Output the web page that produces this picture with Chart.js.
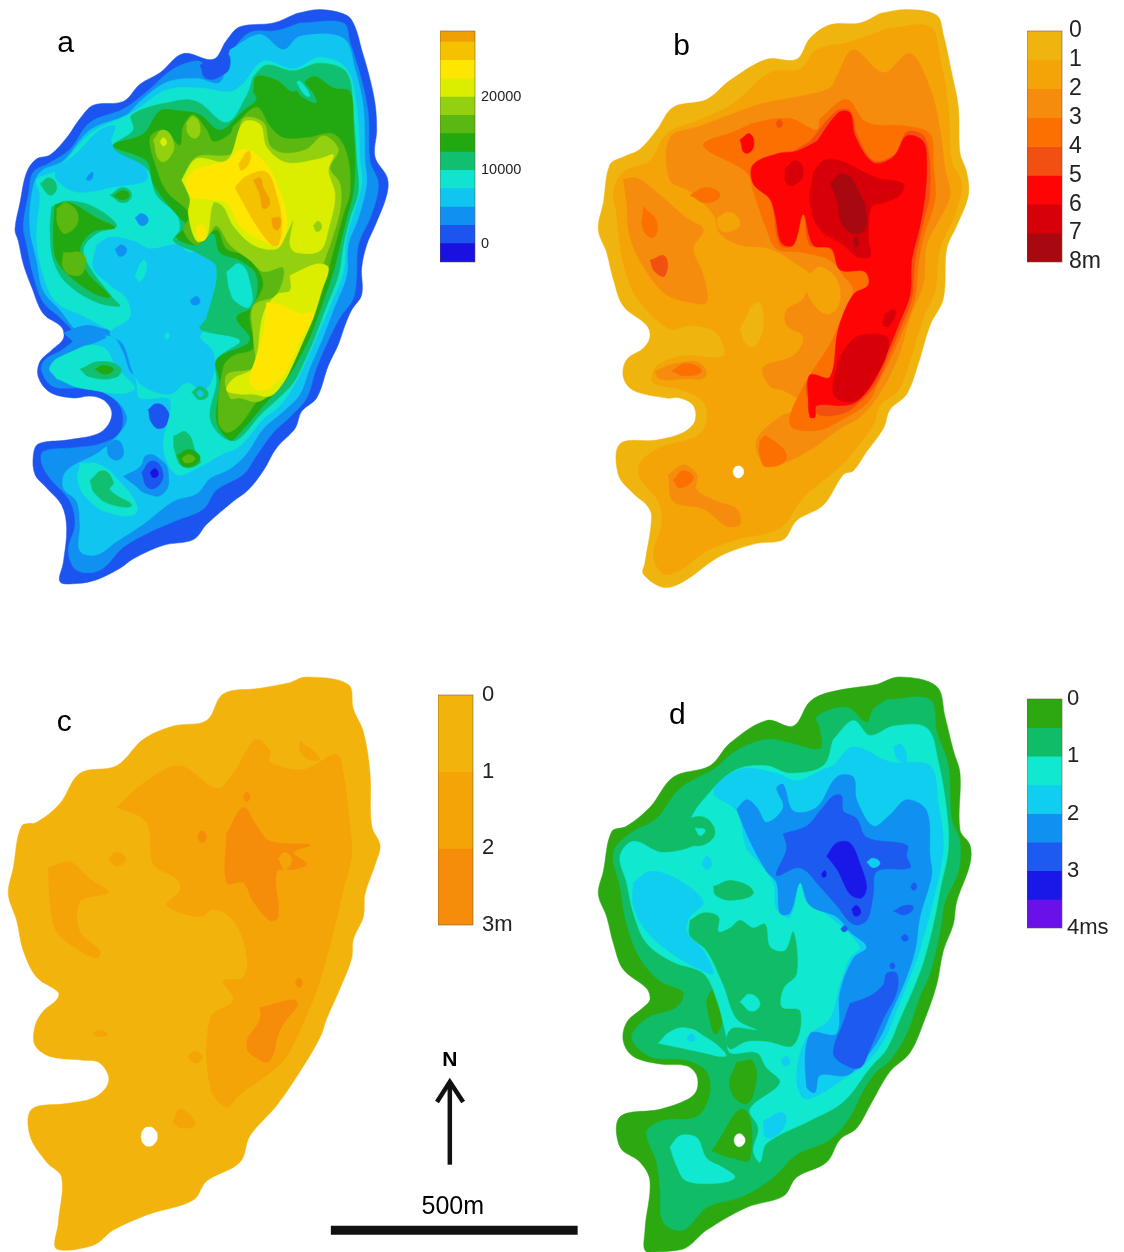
<!DOCTYPE html>
<html>
<head>
<meta charset="utf-8">
<title>Maps a-d</title>
<script src="https://cdn.jsdelivr.net/npm/chart.js@4"></script>
<style>
  html, body { margin: 0; background: #fff; }
  #page { position: relative; width: 1124px; height: 1252px; overflow: hidden; }
  canvas { position: absolute; }
  canvas.map { filter: blur(0.6px); }
</style>
</head>
<body>
<div id="page"></div>
<script>
// colour bar bands and ticks
const aColors = ["#1a10e0","#1c54f0","#1090f0","#10c6f0","#10e4d0","#10c070","#22a810","#5ab810","#92d010","#dcee00","#ffe600","#f5c200","#f0a000"];
const aEdges = [-2500,0,2500,5000,7500,10000,12500,15000,17500,20000,22500,25000,27500,29000];
const aTicks = [0,10000,20000];
const aTickLabels = ["0","10000","20000"];

const bColors = ["#f0b40e","#f4a406","#f58c0e","#fb7000","#f25010","#ff0404","#d80008","#a80810"];
const bEdges = [0,1,2,3,4,5,6,7,8];
const bTicks = [0,1,2,3,4,5,6,7,8];
const bTickLabels = ["0","1","2","3","4","5","6","7","8m"];

const cColors = ["#f2b40c","#f5a408","#f58c0a"];
const cEdges = [0,1,2,3];
const cTicks = [0,1,2,3];
const cTickLabels = ["0","1","2","3m"];

const dColors = ["#2ca810","#10bc66","#10e8d0","#10cef0","#1090f0","#1c5af0","#1a18e8","#6a10e8"];
const dEdges = [0,0.5,1,1.5,2,2.5,3,3.5,4];
const dTicks = [0,1,2,3,4];
const dTickLabels = ["0","1","2","3","4ms"];

// contours: [band, [x,y, x,y, ...]] drawn in order, map units
const aContours = [
  [1,[890,35,960,25,1040,40,1065,70,1085,130,1105,190,1125,270,1130,340,1125,410,1162,465,1160,510,1125,590,1100,640,1085,700,1085,770,1055,810,1035,850,1015,900,985,955,950,1040,905,1075,885,1120,830,1170,790,1230,745,1280,700,1310,620,1370,580,1410,490,1425,400,1460,360,1485,290,1515,230,1525,180,1520,190,1470,200,1380,185,1320,140,1275,105,1240,100,1190,115,1160,200,1150,290,1135,325,1110,335,1075,310,1045,270,1035,220,1040,150,1025,115,985,120,945,155,915,190,885,185,855,130,820,95,750,70,690,55,630,45,600,60,530,80,450,110,415,150,405,200,360,240,310,280,275,370,265,420,220,480,190,550,140,640,155,680,105,720,70,820,60,890,35]],
  [2,[900,60,1030,60,1050,110,1085,210,1105,300,1110,420,1135,480,1115,560,1075,640,1070,720,1060,780,1020,830,990,880,950,960,920,1040,870,1090,820,1130,770,1190,730,1240,650,1280,610,1330,530,1360,450,1390,370,1430,300,1490,230,1490,205,1440,225,1370,210,1310,150,1250,125,1210,130,1180,220,1170,300,1160,360,1130,365,1070,320,1030,240,1015,160,1010,125,970,135,940,185,915,225,880,180,830,130,790,100,720,80,640,70,590,85,510,100,450,150,425,210,390,270,320,370,285,440,240,520,180,600,160,620,195,670,185,700,130,750,85,830,80,900,60]],
  [3,[690,130,780,90,850,130,900,95,1030,100,1065,180,1090,280,1095,420,1100,480,1075,570,1045,640,1040,720,1000,810,965,890,930,960,900,1030,850,1075,790,1120,740,1185,690,1225,630,1250,590,1290,520,1310,430,1370,350,1415,290,1450,240,1440,240,1370,230,1310,190,1275,200,1230,300,1180,370,1120,380,1085,340,1040,240,1000,180,985,150,960,190,930,260,905,320,880,240,870,180,810,130,760,110,680,90,600,95,510,120,450,190,420,270,340,380,300,420,265,500,215,590,205,660,215]],
  [1,[600,170,650,155,680,140,690,170,670,195,620,205]],
  [2,[190,870,260,850,330,860,400,825,440,830,420,880,420,960,395,975,370,920,340,880,290,880,240,900]],
  [1,[380,895,395,880,412,895,395,915]],
  [1,[445,1070,470,1055,500,1070,505,1100,480,1120,455,1105]],
  [2,[320,1165,350,1150,370,1175,360,1200,330,1195]],
  [2,[370,1245,420,1220,440,1190,480,1200,505,1235,490,1290,440,1290,400,1265]],
  [1,[425,1235,455,1205,485,1225,480,1265,445,1275]],
  [0,[450,1235,465,1225,475,1240,460,1248]],
  [4,[730,220,790,160,880,180,960,150,1040,180,1070,280,1080,420,1085,480,1060,560,1040,620,1030,710,990,800,955,870,925,930,890,995,840,1060,790,1095,720,1165,660,1190,600,1220,530,1240,490,1170,510,1045,420,1040,410,1000,380,900,340,870,260,830,170,790,130,720,110,620,120,510,110,470,170,445,270,350,385,300,420,280,500,235,600,230,690,240]],
  [4,[170,990,150,960,200,925,300,905,350,960,400,1020,250,1015]],
  [4,[240,1210,300,1215,360,1260,410,1320,400,1345,330,1340,270,1310,235,1260]],
  [3,[165,445,230,400,300,340,345,330,335,375,420,420,440,470,330,490,280,500,220,500,170,470]],
  [3,[290,640,330,620,400,630,450,650,530,640,570,660,640,650,650,700,640,770,630,850,600,880,640,920,640,980,610,1020,560,1000,510,1030,430,1010,400,975,370,900,330,870,390,830,380,780,330,745,280,700]],
  [2,[265,458,278,450,275,468,260,470]],
  [2,[405,570,425,558,445,575,425,590]],
  [2,[345,652,365,640,380,655,360,670]],
  [2,[570,785,590,775,600,790,580,797]],
  [4,[405,720,430,680,440,700,420,735]],
  [4,[495,875,505,870,507,882,497,885]],
  [5,[760,200,800,170,880,185,960,165,1040,190,1060,300,1070,420,1075,500,1050,570,1030,640,1015,720,975,810,945,880,910,950,880,1000,830,1045,780,1085,710,1150,665,1140,630,1090,650,1000,650,940,720,890,600,860,620,830,650,700,600,665,520,630,540,600,530,560,470,510,440,440,340,385,400,340,395,300,520,265,590,265,680,320,740,250]],
  [5,[120,480,150,465,170,490,150,510]],
  [5,[155,540,200,525,280,540,350,590,290,610,250,650,270,700,340,780,360,800,290,790,200,740,160,680,150,600]],
  [5,[330,510,370,490,395,510,370,530]],
  [6,[340,512,370,498,388,510,368,522]],
  [5,[240,965,300,945,360,960,350,985,270,985]],
  [6,[285,965,310,955,340,965,315,978]],
  [5,[520,1140,560,1130,590,1190,600,1210,550,1220,525,1180]],
  [6,[530,1190,570,1175,600,1200,555,1220]],
  [7,[545,1198,568,1188,585,1200,558,1210]],
  [5,[575,1025,600,1010,625,1030,600,1045]],
  [3,[590,1027,600,1020,610,1030,600,1036]],
  [5,[270,1255,310,1230,340,1260,330,1280,395,1320,340,1320,285,1290]],
  [6,[760,240,770,200,830,210,880,240,940,200,1000,230,1050,240,1060,340,1065,420,1060,500,1040,570,1020,640,1000,710,960,810,930,880,895,940,860,990,820,1030,780,1070,720,1130,690,1150,650,1100,660,1000,650,940,750,890,710,830,760,800,770,720,720,680,660,660,640,610,590,640,530,620,560,590,540,570,500,530,460,480,440,420,340,380,430,350,480,290,540,290,600,300,660,340,730,290,770,260]],
  [6,[165,535,210,530,290,570,345,595,280,605,240,650,260,710,330,775,290,770,220,730,170,680,160,620]],
  [4,[680,710,720,690,750,740,750,800,710,790,690,760]],
  [5,[880,205,900,205,950,265,920,260,890,235]],
  [4,[890,215,900,212,930,250,915,248]],
  [7,[700,330,770,280,810,330,850,360,920,360,1000,350,1040,400,1050,500,1030,560,1005,640,980,720,940,830,900,910,870,960,820,1010,770,1050,720,1110,680,1130,655,1100,670,960,700,930,760,910,750,820,790,740,740,670,680,650,650,600,590,640,550,600,570,560,500,500,470,440,450,360,490,340,540,380,550,330,580,300,620,340,640,370,690,350]],
  [7,[170,545,200,530,235,570,200,610,175,590]],
  [7,[190,660,250,665,250,710,220,720,190,700]],
  [8,[460,365,490,340,520,370,510,410,480,420]],
  [9,[480,370,490,360,500,372,490,382]],
  [8,[560,320,580,305,600,330,590,360,565,350]],
  [8,[550,460,590,410,700,400,730,310,790,320,810,380,850,400,920,390,970,355,1015,390,990,440,1020,480,1020,550,990,640,970,690,950,760,920,830,890,900,850,980,810,1030,770,1050,720,1040,690,1040,680,980,760,960,760,880,760,800,830,770,850,700,790,710,750,680,690,640,650,590,620,620,590,630,570,550,570,500]],
  [9,[545,470,590,415,680,420,730,320,780,325,800,385,860,425,960,415,1000,405,985,445,1005,510,985,600,960,655,890,660,870,640,880,575,860,610,830,650,760,640,700,590,670,540,640,530,620,620,590,630,565,560,570,520]],
  [9,[870,720,950,690,985,700,965,760,940,830,910,890,880,950,850,1000,810,1035,760,1030,720,1030,680,1020,700,990,760,960,790,820,830,770,870,760]],
  [8,[940,590,955,578,965,595,950,605]],
  [10,[590,440,680,420,730,390,790,420,830,480,860,570,840,640,790,630,720,590,680,530,620,520,570,510,560,470]],
  [10,[590,590,610,590,615,625,595,625]],
  [10,[800,790,850,800,900,820,940,820,900,890,870,950,840,990,790,1020,750,1000,770,930,790,870]],
  [11,[705,490,740,460,800,450,830,510,845,580,835,640,815,640,770,590,730,530]],
  [11,[715,430,745,395,750,420,725,445]],
  [12,[760,470,780,465,790,490,810,530,790,545,780,510]],
  [12,[815,570,840,570,835,600,820,595]]
];

const bContours = [
  [0,[870,35,950,25,1040,40,1060,90,1085,190,1105,280,1110,400,1130,450,1135,510,1100,590,1070,650,1060,780,1020,850,985,950,950,1030,900,1070,880,1120,830,1180,790,1230,760,1240,700,1320,620,1360,580,1410,500,1420,410,1445,360,1470,280,1520,220,1535,160,1500,165,1470,185,1350,170,1320,130,1290,85,1240,90,1160,200,1150,280,1130,315,1100,310,1060,270,1040,230,1040,130,1020,100,985,110,940,160,910,180,880,170,850,100,800,70,730,50,660,25,600,40,530,60,430,100,410,150,390,200,340,250,280,350,260,420,210,530,155,620,155,660,100,720,65,810,60,870,35]],
  [1,[890,75,1020,70,1050,150,1075,280,1085,420,1115,480,1095,560,1050,650,1035,760,1000,830,965,930,925,1020,870,1060,850,1110,800,1170,750,1220,640,1300,570,1380,440,1410,350,1440,270,1490,220,1500,190,1450,215,1370,205,1310,150,1250,150,1210,210,1170,320,1140,350,1100,340,1050,280,1020,190,1000,190,970,210,950,280,930,400,930,380,870,300,850,240,860,150,790,110,720,90,640,80,560,70,500,100,450,180,420,230,350,340,310,430,270,540,190,630,180,680,130,780,110]],
  [0,[450,860,500,790,520,830,500,900,470,900]],
  [2,[740,200,790,130,880,190,960,140,1020,230,1050,340,1065,440,1080,510,1050,570,1010,640,1000,740,960,830,930,920,900,980,860,1040,810,1090,750,1120,670,1170,580,1210,520,1210,500,1150,570,1090,640,1060,580,1020,540,1010,520,960,610,930,640,880,590,850,590,810,640,780,660,720,620,690,540,650,450,640,390,610,370,560,300,500,240,470,240,360,330,330,420,300,520,270,640,250,720,230]],
  [2,[100,470,140,465,210,510,290,570,340,600,310,650,340,720,350,790,300,790,230,770,170,710,120,620,110,530]],
  [2,[195,970,260,950,330,950,345,985,280,990,210,990]],
  [2,[235,1240,280,1215,320,1240,320,1280,380,1310,440,1330,450,1370,410,1375,340,1330,250,1310]],
  [1,[380,570,420,555,450,585,420,605,390,600]],
  [1,[650,720,700,700,750,760,720,820,660,780]],
  [3,[690,310,770,260,830,320,950,330,1020,350,1030,430,1035,520,1000,620,985,690,975,780,940,860,905,930,870,990,835,1050,770,1090,680,1125,600,1110,640,1010,720,900,745,850,790,760,760,720,720,680,640,660,560,650,530,600,490,500,470,450,340,380,430,345,500,320,600,310,680,340]],
  [3,[160,540,200,580,190,620,160,600]],
  [3,[300,510,350,490,390,510,350,530]],
  [3,[245,970,290,950,335,970,285,982]],
  [3,[250,1255,280,1230,310,1250,270,1275]],
  [3,[510,1150,530,1140,590,1195,530,1220,510,1190]],
  [4,[180,680,225,670,225,720,195,710]],
  [4,[660,370,740,290,780,290,800,350,850,420,920,400,950,345,1005,360,1020,500,1000,580,975,680,965,780,930,860,895,930,860,1000,810,1050,760,1080,680,1080,650,1000,720,990,750,850,790,770,840,750,820,700,750,700,720,650,660,640,640,560,610,640,570,640,540,520,490,480,490,430,560,420,620,390]],
  [5,[680,370,745,295,780,295,795,355,850,425,910,410,950,355,1000,370,1010,430,1005,510,990,590,965,680,960,770,925,850,890,925,850,1000,800,1050,760,1060,680,1060,675,1090,660,1090,655,1040,660,980,720,985,745,860,790,770,835,745,825,710,750,705,725,650,670,640,640,560,610,640,575,635,555,560,540,520,490,480,490,430,570,400,620,395]],
  [5,[450,365,480,350,490,385,465,400]],
  [4,[558,322,568,312,578,324,566,334]],
  [6,[670,450,700,420,750,420,800,440,860,465,940,480,930,510,880,530,845,540,835,620,840,670,800,670,760,640,690,600,660,530]],
  [6,[585,440,620,420,640,450,620,480,590,480]],
  [6,[750,930,800,880,890,880,890,925,860,980,810,1040,770,1050,730,1030,740,960]],
  [6,[885,820,915,810,900,850,880,850]],
  [7,[720,480,760,455,800,490,830,570,810,610,760,590,740,520]],
  [7,[790,625,800,620,805,640,795,645]]
];
const bHole = [429,1233,434,1222,445,1218,456,1222,461,1233,456,1244,445,1249,434,1244];

const cContours = [
  [0,[870,60,920,45,1045,65,1060,130,1090,190,1110,300,1115,440,1140,490,1130,530,1095,620,1090,680,1060,740,1055,790,1020,870,980,950,960,1000,900,1090,830,1180,750,1260,720,1330,620,1380,580,1430,440,1470,340,1510,280,1550,170,1560,175,1490,185,1370,140,1330,90,1260,95,1190,200,1175,280,1160,320,1130,325,1100,295,1065,250,1060,150,1050,105,1020,105,970,130,930,170,900,175,880,110,840,70,770,50,690,25,620,40,550,65,440,110,430,180,380,240,300,350,280,430,210,520,175,620,160,670,90,780,75]],
  [1,[350,390,440,320,540,280,650,340,700,300,740,240,770,210,810,240,810,270,910,290,1010,250,1030,300,1050,440,1055,520,1030,610,1000,720,960,850,930,920,860,1050,800,1100,720,1150,680,1185,630,1130,630,950,700,900,670,850,730,840,740,780,700,690,640,660,600,680,500,650,540,610,530,580,460,540,440,430]],
  [1,[900,215,960,260,930,265,900,240]],
  [1,[145,550,210,535,270,580,325,615,240,640,240,720,300,770,290,790,230,765,170,720,150,640]],
  [1,[325,528,350,510,378,528,350,546]],
  [1,[278,990,298,980,322,992,298,998]],
  [1,[563,1050,585,1036,607,1052,585,1068]],
  [1,[518,1225,540,1190,585,1228,545,1240]],
  [2,[680,460,730,390,770,440,810,480,930,490,880,510,920,540,880,555,830,560,835,680,810,690,760,640,730,590,680,590]],
  [1,[835,525,855,510,875,530,855,555]],
  [2,[780,920,890,905,840,980,810,1060,780,1060,740,1020,780,950]],
  [2,[592,468,605,452,620,468,605,484]],
  [2,[885,855,897,843,908,855,897,867]],
  [2,[730,362,740,350,750,364,738,376]]
];
const cHole = [423,1262,430,1244,447,1237,464,1244,472,1262,464,1280,447,1288,430,1280];

const dContours = [
  [0,[860,65,930,45,1040,70,1065,150,1090,240,1110,300,1110,450,1140,490,1140,540,1100,640,1090,700,1060,770,1040,860,1005,950,960,1040,900,1090,840,1180,800,1240,750,1270,710,1330,620,1370,580,1420,470,1450,350,1510,280,1560,170,1568,165,1510,180,1380,150,1330,90,1290,90,1210,210,1190,290,1165,320,1140,320,1100,290,1075,210,1070,130,1050,100,1010,110,960,160,920,180,900,170,870,100,820,70,750,50,680,25,620,40,560,65,455,110,440,180,390,250,310,360,280,420,220,530,160,610,175,660,110,720,85]],
  [1,[890,105,1020,105,1040,190,1075,280,1085,420,1110,480,1105,560,1065,640,1050,720,1020,830,990,890,950,990,900,1060,860,1090,820,1140,780,1210,720,1270,620,1310,550,1370,460,1420,350,1450,280,1510,220,1490,210,1400,200,1330,170,1250,220,1220,320,1210,360,1150,350,1090,290,1060,180,1050,125,1000,170,950,260,920,280,880,210,850,150,790,110,700,90,600,70,510,120,460,200,420,270,340,370,290,440,240,530,210,600,220,690,235,690,180,680,150,770,125,830,165,850,130]],
  [0,[440,1065,490,1065,490,1150,460,1175,420,1130]],
  [0,[360,880,410,850,380,990,350,910]],
  [0,[365,1300,460,1190,480,1320,430,1320]],
  [2,[730,210,790,160,840,200,910,175,1010,180,1045,270,1070,400,1075,500,1050,610,1030,700,1000,800,970,870,930,950,890,1030,840,1080,760,1170,660,1220,530,1280,510,1330,490,1300,505,1240,480,1190,570,1120,530,1080,500,1040,420,1040,410,1000,380,900,340,830,250,800,170,750,130,670,110,590,90,520,130,480,220,510,330,480,300,430,360,350,440,290,530,280,600,300,700,280]],
  [2,[205,1015,240,985,290,975,340,995,400,1035,405,1050,340,1040,260,1025]],
  [2,[240,1290,270,1260,320,1265,350,1320,400,1345,435,1370,390,1385,290,1380,260,1340]],
  [1,[300,690,340,670,385,680,385,720,420,710,450,690,490,710,525,700,540,760,585,770,610,720,620,830,580,870,575,920,630,930,610,1020,530,1010,470,1010,420,1030,410,1000,430,975,500,980,440,950,400,860,350,770,300,730]],
  [2,[450,905,480,885,510,910,485,930]],
  [1,[265,450,320,415,370,440,360,480,290,490,270,470]],
  [2,[315,445,345,450,330,465]],
  [1,[370,600,430,585,490,615,440,635,380,625]],
  [3,[730,280,790,230,900,270,1020,280,1045,380,1060,480,1050,560,1020,670,985,780,950,860,910,950,880,1010,820,1075,760,1110,690,1150,640,1160,620,1100,650,1000,720,950,750,860,780,790,810,760,720,680,650,640,630,590,600,680,560,660,550,590,500,530,470,500,440,400,370,350,450,290,560,300,620,320,700,290]],
  [3,[130,590,180,560,260,580,340,640,300,680,290,720,340,770,370,830,330,820,250,780,170,720,130,650]],
  [3,[335,540,350,520,365,540,350,555]],
  [3,[910,230,935,225,950,270,925,265]],
  [3,[290,1000,305,990,315,1005,300,1010]],
  [3,[572,1060,590,1050,600,1065,585,1075]],
  [3,[520,1220,580,1200,580,1240,530,1265]],
  [2,[675,790,700,790,720,830,700,840]],
  [4,[440,395,470,370,500,390,530,430,580,390,560,340,580,330,610,400,680,390,740,310,790,310,800,370,850,440,900,410,950,370,1010,400,1020,520,1025,570,990,680,975,770,945,850,905,930,870,1000,820,1060,770,1100,690,1100,675,1145,650,1130,660,990,740,990,750,880,790,790,830,760,780,720,740,680,660,650,630,590,600,670,570,670,560,590,530,560,480,480]],
  [5,[580,460,650,440,690,400,730,360,755,360,760,400,800,420,830,470,950,490,950,520,960,550,860,560,850,620,830,690,790,700,740,650,680,590,650,560,620,550,560,570,590,500]],
  [5,[780,910,840,890,880,860,890,830,920,830,920,880,880,950,840,1030,810,1080,760,1070,730,1040,760,960]],
  [3,[830,535,850,525,870,538,850,550]],
  [5,[910,665,945,650,970,655,945,675]],
  [5,[962,600,972,590,980,602,970,610]],
  [5,[933,735,945,727,955,738,943,745]],
  [5,[898,808,908,802,915,812,905,818]],
  [5,[752,712,764,704,772,714,760,720]],
  [6,[710,520,740,485,780,485,810,540,830,600,815,630,780,620,745,560,720,530]],
  [6,[785,660,800,650,812,670,795,678]],
  [6,[695,565,705,558,708,572,698,575]]
];
const dHole = [432,1272,437,1260,448,1255,459,1260,465,1272,459,1284,448,1289,437,1284];

// scale bar in metres and the north arrow
const scaleBarX = [0,500];
const scaleBarY = [406,406];
const arrowShaftX = [241,241];
const arrowShaftY = [273,108];
const arrowHeadX = [215,241,268];
const arrowHeadY = [146,105,146];

const page = document.getElementById("page");

function addCanvas(left, top, width, height) {
  const canvas = document.createElement("canvas");
  canvas.width = width;
  canvas.height = height;
  canvas.style.left = left + "px";
  canvas.style.top = top + "px";
  canvas.style.width = width + "px";
  canvas.style.height = height + "px";
  page.appendChild(canvas);
  return canvas;
}

function toPoints(flat) {
  const points = [];
  for (let i = 0; i < flat.length; i += 2) {
    points.push({ x: flat[i], y: flat[i + 1] });
  }
  points.push({ x: flat[0], y: flat[1] });
  return points;
}

function polygon(flat, color) {
  return {
    data: toPoints(flat),
    showLine: true,
    fill: "shape",
    backgroundColor: color,
    borderColor: color,
    borderWidth: 0.5,
    pointRadius: 0,
    // small blobs need more rounding than the long contours
    tension: flat.length <= 16 ? 0.5 : 0.35,
  };
}

// text placed in scale units
function textPlugin(items) {
  return {
    id: "mapText",
    afterDraw(chart) {
      const { ctx, scales } = chart;
      ctx.save();
      ctx.textAlign = "center";
      ctx.textBaseline = "middle";
      ctx.fillStyle = "#000";
      items.forEach(item => {
        ctx.font = item.font;
        ctx.fillText(item.text, scales.x.getPixelForValue(item.x), scales.y.getPixelForValue(item.y));
      });
      ctx.restore();
    },
  };
}

function drawMap(left, top, height, yMax, contours, colors, hole, letter) {
  const datasets = contours.map(([band, flat]) => polygon(flat, colors[band]));
  if (hole) datasets.push(polygon(hole, "#ffffff"));
  // chart.js paints the first dataset last
  datasets.reverse();
  const canvas = addCanvas(left, top, 400, height);
  canvas.className = "map";
  new Chart(canvas, {
    type: "scatter",
    data: { datasets },
    options: {
      responsive: false,
      animation: false,
      layout: { padding: 0 },
      plugins: {
        legend: { display: false },
        tooltip: { enabled: false },
        filler: { drawTime: "beforeDatasetDraw" },
      },
      scales: {
        x: { type: "linear", min: 0, max: 1200, display: false },
        y: { type: "linear", min: 0, max: yMax, reverse: true, display: false },
      },
    },
    plugins: [textPlugin([{ text: letter.text, x: letter.x, y: letter.y, font: "30px 'Liberation Sans'" }])],
  });
}

const frame = {
  id: "barFrame",
  afterDatasetsDraw(chart) {
    const { ctx, chartArea: a } = chart;
    ctx.save();
    ctx.strokeStyle = "rgba(110,90,50,0.55)";
    ctx.lineWidth = 1;
    ctx.strokeRect(a.left, a.top, a.right - a.left, a.bottom - a.top);
    ctx.restore();
  },
};

function drawBar(left, top, bottom, colors, edges, ticks, labels, reverse, fontSize, pad) {
  const margin = 14;
  const barWidth = 35;
  const width = 100;
  const datasets = colors.map((color, i) => ({
    data: [[edges[i], edges[i + 1]]],
    backgroundColor: color,
    grouped: false,
    barPercentage: 1,
    categoryPercentage: 1,
  }));
  new Chart(addCanvas(left, top - margin, width, bottom - top + margin * 2), {
    type: "bar",
    data: { labels: [""], datasets },
    options: {
      responsive: false,
      animation: false,
      layout: { padding: { top: margin, bottom: margin, left: 0, right: 0 } },
      plugins: { legend: { display: false }, tooltip: { enabled: false } },
      scales: {
        x: { display: false },
        y: {
          position: "right",
          min: edges[0],
          max: edges[edges.length - 1],
          reverse,
          grid: { display: false, drawTicks: false },
          border: { display: false },
          afterFit: scale => {
            scale.width = width - barWidth;
            scale.paddingTop = 0;
            scale.paddingBottom = 0;
          },
          afterBuildTicks: scale => { scale.ticks = ticks.map(value => ({ value })); },
          ticks: {
            autoSkip: false,
            align: "center",
            crossAlign: "near",
            padding: pad,
            color: "#222",
            font: { family: "'Liberation Sans'", size: fontSize },
            callback: value => labels[ticks.indexOf(value)],
          },
        },
      },
    },
    plugins: [frame],
  });
}

function drawScale() {
  const line = (xs, ys, width) => ({
    data: xs.map((x, i) => ({ x, y: ys[i] })),
    showLine: true,
    borderColor: "#111",
    borderWidth: width,
    pointRadius: 0,
  });
  new Chart(addCanvas(320, 1030, 270, 222), {
    type: "scatter",
    data: {
      datasets: [
        line(scaleBarX, scaleBarY, 9),
        line(arrowShaftX, arrowShaftY, 4.5),
        line(arrowHeadX, arrowHeadY, 4.5),
      ],
    },
    options: {
      responsive: false,
      animation: false,
      layout: { padding: 0 },
      plugins: { legend: { display: false }, tooltip: { enabled: false } },
      scales: {
        x: { type: "linear", min: -22, max: 525, display: false },
        y: { type: "linear", min: 0, max: 450, reverse: true, display: false },
      },
    },
    plugins: [textPlugin([
      { text: "N", x: 241, y: 62, font: "bold 21px 'Liberation Sans'" },
      { text: "500m", x: 247, y: 358, font: "25px 'Liberation Sans'" },
    ])],
  });
}

drawMap(0, 0, 600, 1568, aContours, aColors, null, { text: "a", x: 197, y: 115 });
drawMap(590, 0, 600, 1568, bContours, bColors, bHole, { text: "b", x: 275, y: 122 });
drawMap(0, 660, 592, 1568, cContours, cColors, cHole, { text: "c", x: 193, y: 165 });
drawMap(590, 660, 592, 1568, dContours, dColors, dHole, { text: "d", x: 262, y: 148 });

drawBar(440, 31, 262, aColors, aEdges, aTicks, aTickLabels, false, 14.5, 6);
drawBar(1027, 31, 262, bColors, bEdges, bTicks, bTickLabels, true, 23, 7);
drawBar(438, 695, 925, cColors, cEdges, cTicks, cTickLabels, true, 22, 9);
drawBar(1027, 699, 928, dColors, dEdges, dTicks, dTickLabels, true, 22, 5);
drawScale();
</script>
</body>
</html>
